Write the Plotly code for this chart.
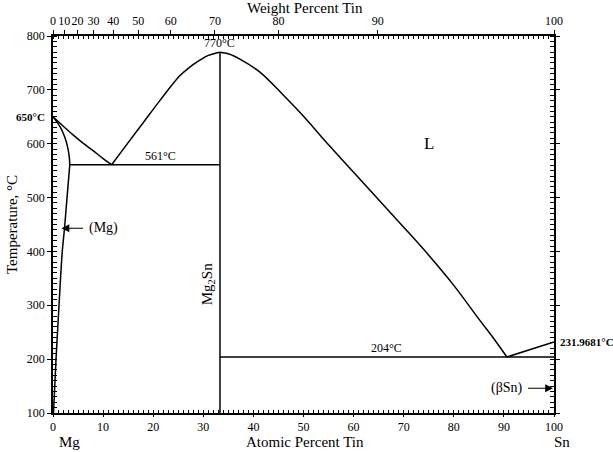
import plotly.graph_objects as go

# ---- data (atomic % Sn, temperature °C) ----
liq_mg_x = [0, 2, 4, 6, 8, 10, 11.7]
liq_mg_t = [650, 633, 616.5, 601, 587, 572.5, 561]

sol_mg_x = [0, 0.8, 1.5, 2.06, 2.6, 3.0, 3.25, 3.35]
sol_mg_t = [650, 640, 630, 619, 605, 590, 575, 561]

solvus_x = [3.35, 2.8, 2.3, 1.85, 1.2, 0.6, 0.1]
solvus_t = [561, 500, 443, 400, 300, 200, 100]

liq_l_x = [11.7, 15, 18, 21.4, 25.3, 27, 29.3, 31, 33.33]
liq_l_t = [561, 602, 639, 681, 726, 740, 755, 764, 770]

liq_r_x = [33.33, 35, 37.3, 41.3, 46, 50, 55, 60, 65, 70, 75, 80, 85.2, 88, 90.6]
liq_r_t = [770, 767, 757, 733, 690, 651, 598, 547, 496, 445, 393, 337, 272, 238, 204]

liq_sn_x = [90.6, 100]
liq_sn_t = [204, 231.9681]

eut1_x = [3.35, 33.33]
eut1_t = [561, 561]
eut2_x = [33.33, 100]
eut2_t = [204, 204]
mg2sn_x = [33.33, 33.33]
mg2sn_t = [100, 770]

wt_labels = [0, 10, 20, 30, 40, 50, 60, 70, 80, 90, 100]
M_SN, M_MG = 118.71, 24.305


def wt_to_at(w):
    if w >= 100:
        return 100.0
    a = w / M_SN
    b = (100 - w) / M_MG
    return 100 * a / (a + b)


wt_pos = [wt_to_at(w) for w in wt_labels]

FONT = "Liberation Serif"
line = dict(color="black", width=1.5)

fig = go.Figure()
for xs, ts in [(liq_mg_x, liq_mg_t), (sol_mg_x, sol_mg_t), (solvus_x, solvus_t),
               (liq_l_x, liq_l_t), (liq_r_x, liq_r_t), (liq_sn_x, liq_sn_t),
               (eut1_x, eut1_t), (eut2_x, eut2_t), (mg2sn_x, mg2sn_t)]:
    fig.add_trace(go.Scatter(x=xs, y=ts, mode="lines", line=line,
                             line_shape="spline", hoverinfo="skip", showlegend=False))

# invisible trace for top axis
fig.add_trace(go.Scatter(x=[0, 100], y=[100, 100], xaxis="x2", mode="lines",
                         line=dict(width=0), showlegend=False, hoverinfo="skip"))

axfont = dict(family=FONT, size=12, color="black")
fig.update_layout(
    width=613, height=452,
    margin=dict(l=53, r=59, t=36, b=39, autoexpand=False),
    plot_bgcolor="white", paper_bgcolor="white",
    font=dict(family=FONT, color="black"),
    xaxis=dict(range=[0, 100], tickvals=list(range(0, 101, 10)), ticks="outside",
               ticklen=2, tickwidth=1, tickcolor="black", showgrid=False, zeroline=False,
               showline=True, linecolor="black", linewidth=1.5, tickfont=axfont,
               automargin=False, tickangle=0,
               minor=dict(tickmode="linear", tick0=0, dtick=1, ticks="inside",
                          ticklen=3, tickcolor="black", showgrid=False)),
    xaxis2=dict(range=[0, 100], overlaying="x", side="top", tickvals=wt_pos,
                ticktext=[str(w) for w in wt_labels], ticks="outside", ticklen=4,
                tickwidth=1, tickcolor="black", showgrid=False, zeroline=False,
                showline=True, linecolor="black", linewidth=1.5, tickfont=axfont,
                automargin=False, tickangle=0,
                minor=dict(tickmode="linear", tick0=0, dtick=1, ticks="inside",
                           ticklen=3, tickcolor="black", showgrid=False)),
    yaxis=dict(range=[100, 800], tickvals=list(range(100, 801, 100)), ticks="outside",
               ticklen=4, tickwidth=1, tickcolor="black", showgrid=False, zeroline=False,
               showline=True, linecolor="black", linewidth=1.5, mirror="allticks",
               tickfont=axfont, automargin=False,
               minor=dict(tickmode="linear", tick0=100, dtick=10, ticks="inside",
                          ticklen=3, tickcolor="black", showgrid=False)),
)

PW, PH = 501, 377
ann = []


def txt(x, y, s, size=12, bold=False, xanchor="center", yanchor="middle",
        xref="x", yref="y", angle=0):
    ann.append(dict(x=x, y=y, xref=xref, yref=yref, text=(f"<b>{s}</b>" if bold else s),
                    showarrow=False, xanchor=xanchor, yanchor=yanchor, textangle=angle,
                    font=dict(family=FONT, size=size, color="black")))


txt((305 - 53) / PW, 1 + (36 - 8) / PH, "Weight Percent Tin", size=15,
    xref="paper", yref="paper")
txt((305 - 53) / PW, -(442 - 413) / PH, "Atomic Percent Tin", size=15,
    xref="paper", yref="paper")
txt((69 - 53) / PW, -(442 - 413) / PH, "Mg", size=15, xref="paper", yref="paper")
txt((562 - 53) / PW, -(442 - 413) / PH, "Sn", size=15, xref="paper", yref="paper")
txt(-41 / PW, (413 - 225) / PH, "Temperature, °C", size=15, xref="paper",
    yref="paper", angle=-90)
txt(-6 / PW, 650, "650°C", size=11, bold=True, xanchor="right", xref="paper")
txt(1 + 4 / PW, 231.97, "231.9681°C", size=11, bold=True, xanchor="left", xref="paper")
txt(33.33, 770, "770°C", size=12, yanchor="bottom")
txt(21.5, 561, "561°C", size=12, yanchor="bottom")
txt(66.5, 204, "204°C", size=12, yanchor="bottom")
txt(75, 600, "L", size=17)
txt(33.33 - 0.3, 340, "Mg<sub>2</sub>Sn", size=15, xanchor="right", angle=-90)
txt(6.8, 443, "(Mg)", size=14, xanchor="left")
txt(90.7, 146, "(βSn)", size=14)

# arrows
ann.append(dict(x=1.7, y=443, ax=6.3, ay=443, xref="x", yref="y", axref="x", ayref="y",
                text="", showarrow=True, arrowhead=2, arrowsize=1.3, arrowwidth=1.2,
                arrowcolor="black"))
ann.append(dict(x=99.8, y=146, ax=94.5, ay=146, xref="x", yref="y", axref="x", ayref="y",
                text="", showarrow=True, arrowhead=2, arrowsize=1.3, arrowwidth=1.2,
                arrowcolor="black"))

fig.update_layout(annotations=ann)
fig.write_html("out.html", config={"displayModeBar": False},
               post_script="document.body.style.margin='0';document.body.style.padding='0';")
